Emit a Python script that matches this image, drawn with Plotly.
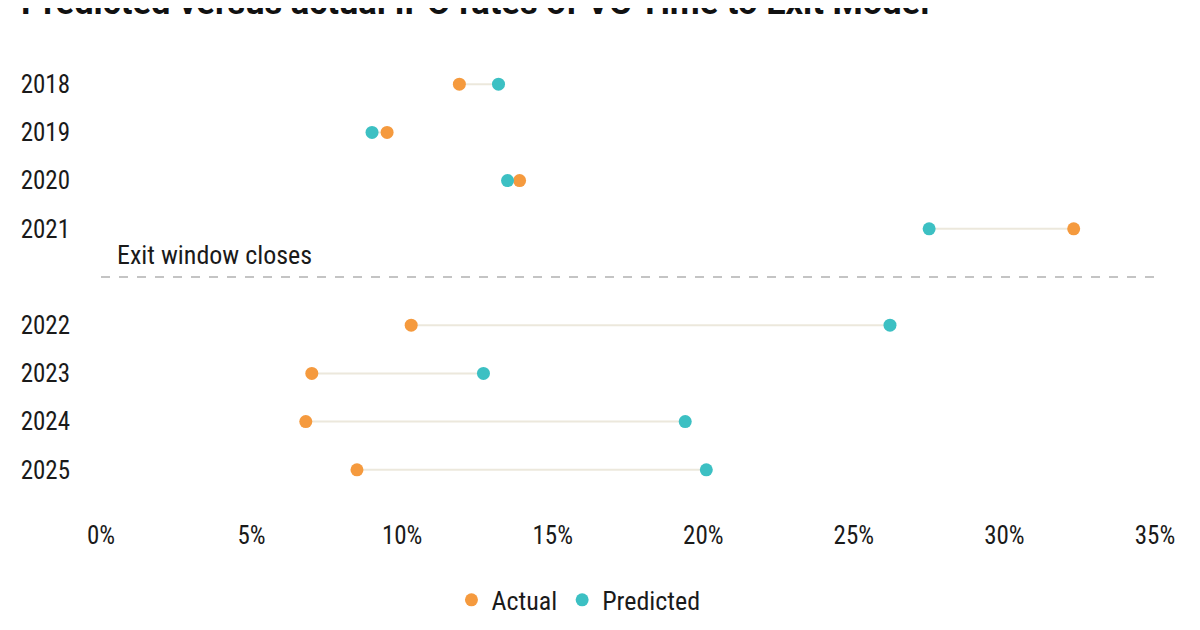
import plotly.graph_objects as go

years = ["2018", "2019", "2020", "2021", "2022", "2023", "2024", "2025"]
actual = [11.9, 9.5, 13.9, 32.3, 10.3, 7.0, 6.8, 8.5]
predicted = [13.2, 9.0, 13.5, 27.5, 26.2, 12.7, 19.4, 20.1]
# slot positions: one empty slot after 2021 holds the "Exit window closes" divider
slots = [0, 1, 2, 3, 5, 6, 7, 8]
divider_slot = 4
x_ticks = [0, 5, 10, 15, 20, 25, 30, 35]

FONT = "Roboto Condensed, Liberation Sans Narrow, DejaVu Sans Condensed, Roboto, sans-serif"
ORANGE = "#f59a3e"
TEAL = "#3cc0c3"

# connector lines between the two dots of each year
line_x, line_y = [], []
for a, p, s in zip(actual, predicted, slots):
    line_x += [a, p, None]
    line_y += [s, s, None]

fig = go.Figure()
fig.add_trace(go.Scatter(
    x=line_x, y=line_y, mode="lines",
    line=dict(color="#ece8dc", width=2),
    showlegend=False, hoverinfo="skip"
))
fig.add_trace(go.Scatter(
    x=actual, y=slots, mode="markers", name="Actual",
    marker=dict(color=ORANGE, size=13),
    customdata=years,
    hovertemplate="%{customdata}: %{x:.1f}%<extra>Actual</extra>"
))
fig.add_trace(go.Scatter(
    x=predicted, y=slots, mode="markers", name="Predicted",
    marker=dict(color=TEAL, size=13),
    customdata=years,
    hovertemplate="%{customdata}: %{x:.1f}%<extra>Predicted</extra>"
))

fig.add_shape(
    type="line", xref="paper", yref="y",
    x0=0, x1=1.0, y0=divider_slot, y1=divider_slot,
    line=dict(color="#c4c4c4", width=2, dash="dash")
)
fig.add_annotation(
    x=0.013, xref="paper", y=divider_slot - 0.45, yref="y",
    text="Exit window closes", showarrow=False,
    xanchor="left", yanchor="middle",
    font=dict(size=26, color="#1a1a1a", family=FONT)
)
# title sits partly above the top edge, as in the source image
fig.add_annotation(
    x=-0.078, xref="paper", y=1.071, yref="paper",
    text="<b>Predicted versus actual IPO rates of VC Time to Exit Model</b>",
    showarrow=False, xanchor="left", yanchor="middle",
    font=dict(size=34.5, color="#111111", family="Roboto, sans-serif")
)

fig.update_layout(
    width=1200, height=630,
    margin=dict(l=93, r=53, t=28, b=120),
    paper_bgcolor="white", plot_bgcolor="white",
    font=dict(family=FONT, size=25, color="#1a1a1a"),
    legend=dict(
        orientation="h", x=0.453, xanchor="center", y=-0.170, yanchor="middle",
        font=dict(size=26), itemwidth=30, traceorder="normal"
    ),
    xaxis=dict(
        range=[0, 35], tickvals=x_ticks,
        ticktext=[f"{v}%" for v in x_ticks],
        showgrid=False, zeroline=False, showline=False, ticks="",
        fixedrange=True
    ),
    yaxis=dict(
        range=[9, -1], tickvals=slots, ticktext=years,
        showgrid=False, zeroline=False, showline=False, ticks="",
        ticklabelstandoff=30, fixedrange=True
    )
)

fig.write_html("out.html")
